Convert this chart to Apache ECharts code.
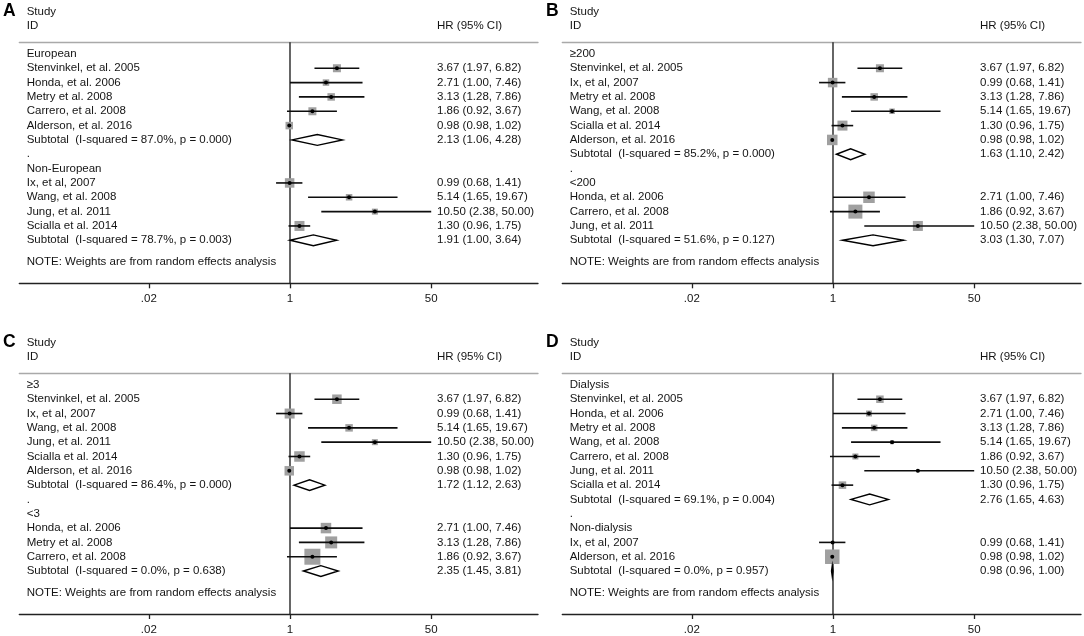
<!DOCTYPE html>
<html>
<head>
<meta charset="utf-8">
<script src="https://cdn.jsdelivr.net/npm/echarts@6/dist/echarts.min.js"></script>
<style>
  html, body { margin: 0; padding: 0; background: #fff; }
  #chart { width: 1084px; height: 636px; }
</style>
</head>
<body>
<div id="chart"></div>
<script>
// --- data ---
var tickValues = [0.02, 1, 50];
var tickLabels = ['.02', '1', '50'];
var refValue = 1;
var noteText = 'NOTE: Weights are from random effects analysis';

var rowsA = ['European', 'Stenvinkel, et al. 2005', 'Honda, et al. 2006', 'Metry et al. 2008', 'Carrero, et al. 2008', 'Alderson, et al. 2016',
  'Subtotal  (I-squared = 87.0%, p = 0.000)', '.', 'Non-European', 'Ix, et al, 2007', 'Wang, et al. 2008', 'Jung, et al. 2011', 'Scialla et al. 2014',
  'Subtotal  (I-squared = 78.7%, p = 0.003)'];
var hrA  = [null, 3.67, 2.71, 3.13, 1.86, 0.98, 2.13, null, null, 0.99, 5.14, 10.50, 1.30, 1.91];
var loA  = [null, 1.97, 1.00, 1.28, 0.92, 0.98, 1.06, null, null, 0.68, 1.65, 2.38, 0.96, 1.00];
var hiA  = [null, 6.82, 7.46, 7.86, 3.67, 1.02, 4.28, null, null, 1.41, 19.67, 50.00, 1.75, 3.64];
var boxA = [0, 7.5, 6, 7, 7.5, 7, 0, 0, 0, 9, 6, 5.5, 9.5, 0];

var rowsB = ['≥200', 'Stenvinkel, et al. 2005', 'Ix, et al, 2007', 'Metry et al. 2008', 'Wang, et al. 2008', 'Scialla et al. 2014', 'Alderson, et al. 2016',
  'Subtotal  (I-squared = 85.2%, p = 0.000)', '.', '<200', 'Honda, et al. 2006', 'Carrero, et al. 2008', 'Jung, et al. 2011',
  'Subtotal  (I-squared = 51.6%, p = 0.127)'];
var hrB  = [null, 3.67, 0.99, 3.13, 5.14, 1.30, 0.98, 1.63, null, null, 2.71, 1.86, 10.50, 3.03];
var loB  = [null, 1.97, 0.68, 1.28, 1.65, 0.96, 0.98, 1.10, null, null, 1.00, 0.92, 2.38, 1.30];
var hiB  = [null, 6.82, 1.41, 7.86, 19.67, 1.75, 1.02, 2.42, null, null, 7.46, 3.67, 50.00, 7.07];
var boxB = [0, 7.5, 9, 7, 5, 9.5, 10, 0, 0, 0, 11, 13.5, 9.5, 0];

var rowsC = ['≥3', 'Stenvinkel, et al. 2005', 'Ix, et al, 2007', 'Wang, et al. 2008', 'Jung, et al. 2011', 'Scialla et al. 2014', 'Alderson, et al. 2016',
  'Subtotal  (I-squared = 86.4%, p = 0.000)', '.', '<3', 'Honda, et al. 2006', 'Metry et al. 2008', 'Carrero, et al. 2008',
  'Subtotal  (I-squared = 0.0%, p = 0.638)'];
var hrC  = [null, 3.67, 0.99, 5.14, 10.50, 1.30, 0.98, 1.72, null, null, 2.71, 3.13, 1.86, 2.35];
var loC  = [null, 1.97, 0.68, 1.65, 2.38, 0.96, 0.98, 1.12, null, null, 1.00, 1.28, 0.92, 1.45];
var hiC  = [null, 6.82, 1.41, 19.67, 50.00, 1.75, 1.02, 2.63, null, null, 7.46, 7.86, 3.67, 3.81];
var boxC = [0, 9, 9.5, 7, 5.5, 10, 9, 0, 0, 0, 10, 11.5, 15.5, 0];

var rowsD = ['Dialysis', 'Stenvinkel, et al. 2005', 'Honda, et al. 2006', 'Metry et al. 2008', 'Wang, et al. 2008', 'Carrero, et al. 2008', 'Jung, et al. 2011',
  'Scialla et al. 2014', 'Subtotal  (I-squared = 69.1%, p = 0.004)', '.', 'Non-dialysis', 'Ix, et al, 2007', 'Alderson, et al. 2016',
  'Subtotal  (I-squared = 0.0%, p = 0.957)'];
var hrD  = [null, 3.67, 2.71, 3.13, 5.14, 1.86, 10.50, 1.30, 2.76, null, null, 0.99, 0.98, 0.98];
var loD  = [null, 1.97, 1.00, 1.28, 1.65, 0.92, 2.38, 0.96, 1.65, null, null, 0.68, 0.98, 0.96];
var hiD  = [null, 6.82, 7.46, 7.86, 19.67, 3.67, 50.00, 1.75, 4.63, null, null, 1.41, 1.02, 1.00];
var boxD = [0, 7, 5.5, 6, 3.5, 5.5, 2.5, 7, 0, 0, 0, 2, 14, 0];

// --- layout ---
var FONT = '"Liberation Sans", Arial, sans-serif';
var INK = '#141414';
var FS = 11.5;
var ROW_MIN = -0.81, ROW_MAX = 16, NOTE_ROW = 14.5;
var X_MIN = Math.pow(10, -3.257), X_MAX = Math.pow(10, 2.984);
var GRID_W = 518.7, GRID_H = 241;
var LABEL_INSET = 7.4, HR_INSET = 417.7;

var panels = [
  { letter: 'A', rows: rowsA, hr: hrA, lo: loA, hi: hiA, box: boxA, x0: 0,   y0: 0 },
  { letter: 'B', rows: rowsB, hr: hrB, lo: loB, hi: hiB, box: boxB, x0: 543, y0: 0 },
  { letter: 'C', rows: rowsC, hr: hrC, lo: loC, hi: hiC, box: boxC, x0: 0,   y0: 331 },
  { letter: 'D', rows: rowsD, hr: hrD, lo: loD, hi: hiD, box: boxD, x0: 543, y0: 331 }
];

function isSubtotal(label) { return label.indexOf('Subtotal') === 0; }
function fmt(v) { return v.toFixed(2); }
function tickFormatter(v) {
  for (var i = 0; i < tickValues.length; i++) {
    if (Math.abs(Math.log(v) - Math.log(tickValues[i])) < 1e-6) return tickLabels[i];
  }
  return '';
}

var grids = [], xAxes = [], yAxes = [], series = [], titles = [];

panels.forEach(function(p, k) {
  grids.push({ left: p.x0 + 19.3, top: p.y0 + 42.3, width: GRID_W, height: GRID_H });

  xAxes.push({
    type: 'log', logBase: 10, gridIndex: k, position: 'bottom', min: X_MIN, max: X_MAX,
    axisLine: { onZero: false, lineStyle: { color: '#222', width: 1.3 } },
    axisTick: { show: true, customValues: tickValues, length: 5, lineStyle: { color: '#222', width: 1.3 } },
    axisLabel: { customValues: tickValues, margin: 10, color: INK, fontSize: FS, fontFamily: FONT, formatter: tickFormatter },
    splitLine: { show: false }, minorTick: { show: false }
  });
  xAxes.push({
    type: 'log', logBase: 10, gridIndex: k, position: 'top', min: X_MIN, max: X_MAX,
    axisLine: { onZero: false, lineStyle: { color: '#a9a9a9', width: 1.3 } },
    axisTick: { show: false }, axisLabel: { show: false }, splitLine: { show: false }
  });
  yAxes.push({ type: 'value', gridIndex: k, inverse: true, min: ROW_MIN, max: ROW_MAX, show: false });

  // reference line at HR = 1
  series.push({
    type: 'line', xAxisIndex: 2 * k, yAxisIndex: k, silent: true, symbol: 'none', z: 1,
    data: [[refValue, ROW_MIN], [refValue, ROW_MAX]],
    lineStyle: { color: '#141414', width: 1.3 }
  });

  // row texts: study names on the left, HR (95% CI) on the right
  var labelData = p.rows.map(function(_, i) { return [refValue, i]; });
  labelData.push([refValue, NOTE_ROW]);
  series.push({
    type: 'custom', xAxisIndex: 2 * k, yAxisIndex: k, silent: true, z: 3,
    data: labelData,
    renderItem: function(params, api) {
      var i = params.dataIndex;
      var y = api.coord([api.value(0), api.value(1)])[1];
      var text = i < p.rows.length ? p.rows[i] : noteText;
      var kids = [{
        type: 'text', x: params.coordSys.x + LABEL_INSET, y: y,
        style: { text: text, fill: INK, fontSize: FS, fontFamily: FONT, align: 'left', verticalAlign: 'middle' }
      }];
      if (i < p.rows.length && p.hr[i] != null) {
        kids.push({
          type: 'text', x: params.coordSys.x + HR_INSET, y: y,
          style: { text: fmt(p.hr[i]) + ' (' + fmt(p.lo[i]) + ', ' + fmt(p.hi[i]) + ')', fill: INK, fontSize: FS, fontFamily: FONT, align: 'left', verticalAlign: 'middle' }
        });
      }
      return { type: 'group', children: kids };
    }
  });

  // individual studies: weight box, CI line, point estimate
  var studyData = [], subData = [];
  p.rows.forEach(function(label, i) {
    if (p.hr[i] == null) return;
    if (isSubtotal(label)) subData.push([p.hr[i], p.lo[i], p.hi[i], i]);
    else studyData.push([p.hr[i], p.lo[i], p.hi[i], i, p.box[i]]);
  });
  series.push({
    type: 'custom', xAxisIndex: 2 * k, yAxisIndex: k, silent: true, z: 4,
    encode: { x: [0, 1, 2], y: 3 },
    data: studyData,
    renderItem: function(params, api) {
      var row = api.value(3);
      var c = api.coord([api.value(0), row]);
      var l = api.coord([api.value(1), row]);
      var h = api.coord([api.value(2), row]);
      var s = api.value(4) + 0.5;
      return { type: 'group', children: [
        { type: 'rect', shape: { x: c[0] - s / 2, y: c[1] - s / 2, width: s, height: s }, style: { fill: '#a0a0a0' } },
        { type: 'line', shape: { x1: l[0], y1: c[1], x2: h[0], y2: c[1] }, style: { stroke: '#0d0d0d', lineWidth: 1.6 } },
        { type: 'circle', shape: { cx: c[0], cy: c[1], r: 2 }, style: { fill: '#000' } }
      ] };
    }
  });

  // subtotal diamonds
  series.push({
    type: 'custom', xAxisIndex: 2 * k, yAxisIndex: k, silent: true, z: 4,
    encode: { x: [0, 1, 2], y: 3 },
    data: subData,
    renderItem: function(params, api) {
      var row = api.value(3);
      var c = api.coord([api.value(0), row]);
      var l = api.coord([api.value(1), row]);
      var h = api.coord([api.value(2), row]);
      var d = 5.4;
      return {
        type: 'polygon',
        shape: { points: [[l[0], c[1]], [c[0], c[1] - d], [h[0], c[1]], [c[0], c[1] + d]] },
        style: { fill: '#fff', stroke: '#000', lineWidth: 1.4 }
      };
    }
  });

  titles.push({ text: p.letter, left: p.x0 + 3, top: p.y0 + 2, padding: 0,
    textStyle: { fontSize: 17.5, fontWeight: 'bold', color: '#000', fontFamily: FONT } });
  titles.push({ text: 'Study\nID', left: p.x0 + 26.7, top: p.y0 + 5.5, padding: 0,
    textStyle: { fontSize: FS, fontWeight: 'normal', color: INK, fontFamily: FONT, lineHeight: 13.3 } });
  titles.push({ text: 'HR (95% CI)', left: p.x0 + 437, top: p.y0 + 18.8, padding: 0,
    textStyle: { fontSize: FS, fontWeight: 'normal', color: INK, fontFamily: FONT, lineHeight: 13.3 } });
});

var chart = echarts.init(document.getElementById('chart'));
chart.setOption({
  animation: false,
  backgroundColor: '#fff',
  title: titles,
  grid: grids,
  xAxis: xAxes,
  yAxis: yAxes,
  series: series
});
window.addEventListener('resize', function() { chart.resize(); });
</script>
</body>
</html>
